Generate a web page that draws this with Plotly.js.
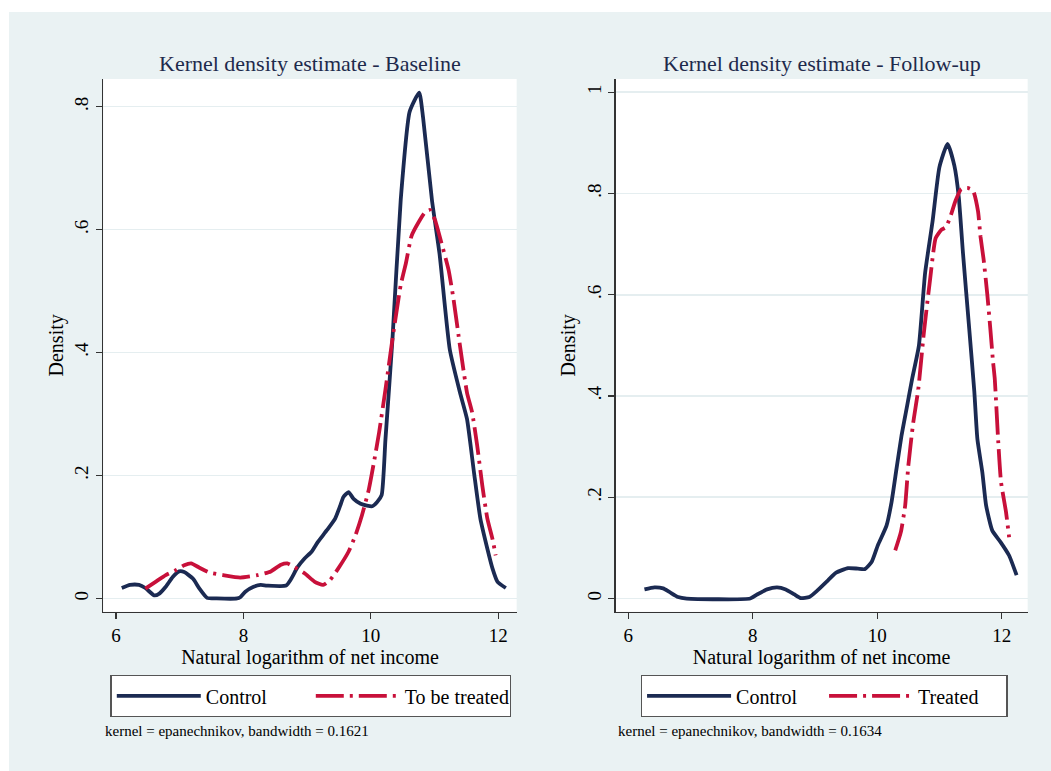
<!DOCTYPE html>
<html>
<head>
<meta charset="utf-8">
<script src="https://cdn.plot.ly/plotly-3.0.1.min.js"></script>
<style>
  html, body { margin: 0; padding: 0; background: #ffffff; }
  #chart { position: absolute; left: 9px; top: 12px; width: 1042px; height: 759px; }
</style>
</head>
<body>
<div id="chart"></div>
<script>
// ---- Baseline panel ----
const baseControlX = [6.09, 6.22, 6.36, 6.46, 6.60, 6.68, 6.78, 6.89, 6.99, 7.07, 7.21, 7.31, 7.43, 7.58, 7.90, 7.95, 8.03, 8.16, 8.27, 8.37, 8.67, 8.75, 8.85, 8.96, 9.07, 9.17, 9.31, 9.44, 9.52, 9.57, 9.65, 9.73, 9.84, 9.94, 10.02, 10.10, 10.17, 10.23, 10.34, 10.47, 10.61, 10.76, 10.82, 10.96, 11.08, 11.24, 11.40, 11.51, 11.62, 11.72, 11.83, 11.91, 11.99, 12.12];
const baseControlY = [0.017, 0.022, 0.022, 0.017, 0.005, 0.008, 0.019, 0.035, 0.044, 0.043, 0.032, 0.016, 0.001, 0.000, 0.000, 0.002, 0.011, 0.019, 0.022, 0.021, 0.021, 0.032, 0.051, 0.065, 0.076, 0.092, 0.111, 0.130, 0.151, 0.165, 0.173, 0.162, 0.154, 0.151, 0.150, 0.157, 0.168, 0.259, 0.422, 0.649, 0.792, 0.823, 0.783, 0.648, 0.560, 0.405, 0.335, 0.292, 0.205, 0.130, 0.081, 0.049, 0.027, 0.017];
const baseTreatX = [6.46, 6.62, 6.78, 6.94, 7.07, 7.18, 7.31, 7.47, 7.68, 7.95, 8.22, 8.43, 8.59, 8.69, 8.80, 8.96, 9.12, 9.25, 9.36, 9.49, 9.65, 9.76, 9.86, 9.97, 10.05, 10.13, 10.23, 10.34, 10.47, 10.55, 10.64, 10.75, 10.85, 10.93, 11.01, 11.11, 11.22, 11.30, 11.40, 11.51, 11.59, 11.67, 11.75, 11.83, 11.91, 11.96];
const baseTreatY = [0.016, 0.027, 0.038, 0.046, 0.054, 0.057, 0.050, 0.042, 0.038, 0.034, 0.038, 0.044, 0.055, 0.057, 0.051, 0.041, 0.027, 0.022, 0.030, 0.049, 0.076, 0.103, 0.135, 0.178, 0.222, 0.270, 0.340, 0.422, 0.510, 0.545, 0.590, 0.612, 0.628, 0.632, 0.615, 0.578, 0.535, 0.486, 0.411, 0.335, 0.303, 0.249, 0.184, 0.130, 0.097, 0.070];

// ---- Follow-up panel ----
const followControlX = [6.26, 6.42, 6.56, 6.66, 6.80, 6.94, 7.96, 8.07, 8.23, 8.39, 8.53, 8.67, 8.77, 8.91, 9.04, 9.21, 9.34, 9.53, 9.69, 9.80, 9.91, 10.01, 10.15, 10.23, 10.31, 10.39, 10.48, 10.56, 10.67, 10.77, 10.89, 11.00, 11.13, 11.24, 11.31, 11.38, 11.48, 11.56, 11.61, 11.69, 11.75, 11.85, 11.98, 12.12, 12.24];
const followControlY = [0.018, 0.022, 0.020, 0.013, 0.003, 0.000, 0.000, 0.008, 0.018, 0.022, 0.018, 0.008, 0.001, 0.003, 0.016, 0.036, 0.051, 0.060, 0.059, 0.058, 0.072, 0.105, 0.144, 0.190, 0.256, 0.321, 0.380, 0.433, 0.499, 0.643, 0.745, 0.852, 0.898, 0.855, 0.794, 0.680, 0.531, 0.410, 0.315, 0.249, 0.184, 0.134, 0.112, 0.085, 0.046];
const followTreatX = [10.29, 10.38, 10.45, 10.50, 10.58, 10.66, 10.75, 10.85, 10.94, 11.03, 11.10, 11.17, 11.26, 11.35, 11.45, 11.54, 11.62, 11.66, 11.71, 11.77, 11.82, 11.86, 11.89, 11.94, 11.99, 12.07, 12.12];
const followTreatY = [0.095, 0.131, 0.184, 0.262, 0.348, 0.413, 0.525, 0.630, 0.712, 0.728, 0.733, 0.752, 0.786, 0.809, 0.811, 0.806, 0.765, 0.715, 0.670, 0.600, 0.530, 0.470, 0.433, 0.321, 0.230, 0.171, 0.121];

// ---- Text ----
const panelTitles = ['Kernel density estimate - Baseline', 'Kernel density estimate - Follow-up'];
const xTitle = 'Natural logarithm of net income';
const yTitle = 'Density';
const leftLegendNames = ['Control', 'To be treated'];
const rightLegendNames = ['Control', 'Treated'];
const notes = ['kernel = epanechnikov, bandwidth = 0.1621', 'kernel = epanechnikov, bandwidth = 0.1634'];
const leftYTicks = [0, 0.2, 0.4, 0.6, 0.8];
const leftYLabels = ['0', '.2', '.4', '.6', '.8'];
const rightYTicks = [0, 0.2, 0.4, 0.6, 0.8, 1];
const rightYLabels = ['0', '.2', '.4', '.6', '.8', '1'];

const NAVY = '#1b2a52';
const RED = '#c8103a';
const FONT = 'Liberation Serif, Times New Roman, serif';
const DASHDOT = '28px,6px,3px,6px';

const traces = [
  {x: baseControlX, y: baseControlY, name: leftLegendNames[0], xaxis: 'x', yaxis: 'y', legend: 'legend',
   mode: 'lines', line: {color: NAVY, width: 3.8, shape: 'spline', smoothing: 0.5}},
  {x: baseTreatX, y: baseTreatY, name: leftLegendNames[1], xaxis: 'x', yaxis: 'y', legend: 'legend',
   mode: 'lines', line: {color: RED, width: 3.8, dash: DASHDOT, shape: 'spline', smoothing: 0.5}},
  {x: followControlX, y: followControlY, name: rightLegendNames[0], xaxis: 'x2', yaxis: 'y2', legend: 'legend2',
   mode: 'lines', line: {color: NAVY, width: 3.8, shape: 'spline', smoothing: 0.5}},
  {x: followTreatX, y: followTreatY, name: rightLegendNames[1], xaxis: 'x2', yaxis: 'y2', legend: 'legend2',
   mode: 'lines', line: {color: RED, width: 3.8, dash: DASHDOT, shape: 'spline', smoothing: 0.5}}
];

function xAxis(domain, range, anchor) {
  return {
    domain: domain, range: range, anchor: anchor, tick0: 0, dtick: 2,
    ticks: 'outside', ticklen: 6, tickwidth: 1.2, tickcolor: '#333',
    showline: true, linecolor: '#333', linewidth: 1.3,
    showgrid: false, zeroline: false,
    tickfont: {family: FONT, size: 19, color: '#000'},
    title: {text: xTitle, font: {family: FONT, size: 20, color: '#000'}, standoff: 2}
  };
}
function yAxis(domain, range, anchor, vals, labels) {
  return {
    domain: domain, range: range, anchor: anchor,
    tickmode: 'array', tickvals: vals, ticktext: labels, tickangle: -90,
    ticks: 'outside', ticklen: 6, tickwidth: 1.2, tickcolor: '#333',
    showline: true, linecolor: '#333', linewidth: 1.3,
    showgrid: true, gridcolor: '#e5eef0', gridwidth: 1.6, zeroline: false,
    tickfont: {family: FONT, size: 19, color: '#000'},
    title: {text: yTitle, font: {family: FONT, size: 20, color: '#000'}, standoff: 2}
  };
}
function legendBox(x, entryW) {
  return {
    x: x, y: 0.1265, xanchor: 'left', yanchor: 'top', orientation: 'h',
    bgcolor: '#ffffff', bordercolor: '#555', borderwidth: 1.3,
    font: {family: FONT, size: 20, color: '#000'},
    itemwidth: 84, entrywidth: entryW, traceorder: 'normal'
  };
}

const layout = {
  width: 1042, height: 759,
  margin: {l: 0, r: 0, t: 0, b: 0},
  paper_bgcolor: '#eaf2f3', plot_bgcolor: '#ffffff',
  font: {family: FONT, size: 19, color: '#000'},
  showlegend: true,
  xaxis: xAxis([0.0905, 0.4872], [5.80, 12.29], 'y'),
  yaxis: yAxis([0.2099, 0.9117], [-0.0215, 0.845], 'x', leftYTicks, leftYLabels),
  xaxis2: xAxis([0.5822, 0.9776], [5.797, 12.418], 'y2'),
  yaxis2: yAxis([0.2099, 0.9117], [-0.026, 1.026], 'x2', rightYTicks, rightYLabels),
  legend: legendBox(0.0974, 100),
  legend2: legendBox(0.6063, 83),
  annotations: [
    {text: panelTitles[0], xref: 'paper', yref: 'paper', x: 0.2889, y: 0.9324, xanchor: 'center', yanchor: 'middle',
     showarrow: false, font: {family: FONT, size: 22, color: '#1e2a4c'}},
    {text: panelTitles[1], xref: 'paper', yref: 'paper', x: 0.7802, y: 0.9324, xanchor: 'center', yanchor: 'middle',
     showarrow: false, font: {family: FONT, size: 22, color: '#1e2a4c'}},
    {text: notes[0], xref: 'paper', yref: 'paper', x: 0.0900, y: 0.0531, xanchor: 'left', yanchor: 'middle',
     showarrow: false, font: {family: FONT, size: 15, color: '#000'}},
    {text: notes[1], xref: 'paper', yref: 'paper', x: 0.5830, y: 0.0531, xanchor: 'left', yanchor: 'middle',
     showarrow: false, font: {family: FONT, size: 15, color: '#000'}}
  ]
};

Plotly.newPlot('chart', traces, layout, {displayModeBar: false, staticPlot: true});
</script>
</body>
</html>
